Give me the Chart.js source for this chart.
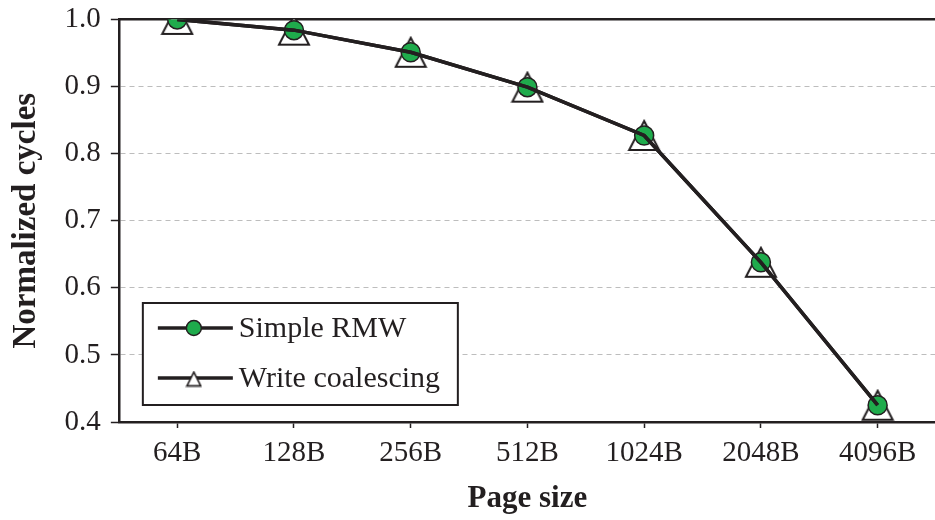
<!DOCTYPE html>
<html>
<head>
<meta charset="utf-8">
<script src="https://cdn.jsdelivr.net/npm/chart.js@4.4.1/dist/chart.umd.min.js"></script>
<style>
  html, body { margin: 0; padding: 0; background: #fff; overflow: hidden; }
  #wrap { position: relative; width: 935px; height: 520px; overflow: hidden; }
  #chart { position: absolute; left: 0; top: -8px; }
</style>
</head>
<body>
<div id="wrap"><canvas id="chart" width="952" height="528"></canvas></div>
<script>
// page sizes on the x axis
const pageSizes = ['64B', '128B', '256B', '512B', '1024B', '2048B', '4096B'];
// normalized cycles per scheme
const simpleRmw       = [1.0, 0.984, 0.951, 0.899, 0.827, 0.638, 0.425];
const writeCoalescing = [1.0, 0.984, 0.951, 0.899, 0.827, 0.638, 0.425];
const seriesNames = ['Simple RMW', 'Write coalescing'];
const yTicks = [0.4, 0.5, 0.6, 0.7, 0.8, 0.9, 1.0];

const ink   = '#231f20',
      green = '#1fab4c',
      serif = "'Liberation Serif', 'Times New Roman', serif";

// hollow triangle marker, centred on its bounding box
function triangleMarker(w, h, lw) {
  let c = document.createElement('canvas'),
      g;
  c.width = w + lw * 2;
  c.height = h + lw * 2;
  g = c.getContext('2d');
  g.beginPath();
  g.moveTo(c.width / 2, lw);
  g.lineTo(c.width - lw, c.height - lw);
  g.lineTo(lw, c.height - lw);
  g.closePath();
  g.fillStyle = '#fff';
  g.fill();
  g.lineWidth = lw;
  g.lineJoin = 'miter';
  g.strokeStyle = ink;
  g.stroke();
  return c;
}

const bigTri   = triangleMarker(30, 29, 2),
      smallTri = triangleMarker(14, 14, 1.6);

// boxed legend sitting in the lower-left of the plot
const boxLegend = {
  id: 'boxLegend',
  afterDatasetsDraw(chart) {
    let ctx = chart.ctx,
        area = chart.chartArea,
        w = 315, h = 102,
        x = area.left + 24,
        y = area.bottom - 17 - h;

    ctx.save();
    ctx.fillStyle = '#fff';
    ctx.fillRect(x, y, w, h);
    ctx.lineWidth = 2;
    ctx.strokeStyle = ink;
    ctx.strokeRect(x, y, w, h);

    seriesNames.forEach(function(name, i) {
      let cy = y + 25 + i * 50,
          mx = x + 51;
      ctx.beginPath();
      ctx.lineWidth = 3.5;
      ctx.strokeStyle = ink;
      ctx.moveTo(x + 15, cy);
      ctx.lineTo(x + 90, cy);
      ctx.stroke();
      if (i === 0) {
        ctx.beginPath();
        ctx.arc(mx, cy, 7.5, 0, Math.PI * 2);
        ctx.fillStyle = green;
        ctx.fill();
        ctx.lineWidth = 1.5;
        ctx.stroke();
      } else {
        ctx.drawImage(smallTri, mx - smallTri.width / 2, cy - smallTri.height / 2 + 1);
      }
      ctx.fillStyle = ink;
      ctx.font = '30px ' + serif;
      ctx.textBaseline = 'middle';
      ctx.textAlign = 'left';
      ctx.fillText(name, x + 96, cy + 1);
    });
    ctx.restore();
  }
};

new Chart(document.getElementById('chart').getContext('2d'), {
  type: 'line',
  plugins: [boxLegend],
  data: {
    labels: pageSizes,
    datasets: [
      { label: seriesNames[1], data: writeCoalescing, showLine: false, pointStyle: bigTri,
        pointRadius: 15, order: 4 },
      { label: seriesNames[0], data: simpleRmw, showLine: false, pointStyle: 'circle',
        pointRadius: 9.5, pointBackgroundColor: green, pointBorderColor: ink, pointBorderWidth: 1.5, order: 3 },
      { label: seriesNames[0], data: simpleRmw, pointRadius: 0, borderColor: ink, borderWidth: 3.5,
        tension: 0, order: 2 },
      { label: seriesNames[1], data: writeCoalescing, pointRadius: 0, borderColor: ink, borderWidth: 3.5,
        tension: 0, order: 1 }
    ]
  },
  options: {
    responsive: false,
    animation: false,
    events: [],
    layout: { padding: { top: 2, right: 8, bottom: 2, left: 7 } },
    plugins: {
      legend: { display: false },
      tooltip: { enabled: false }
    },
    scales: {
      x: {
        offset: true,
        grid: { drawOnChartArea: false, drawTicks: true, tickLength: 6, tickColor: ink, tickWidth: 1.5 },
        border: { color: ink, width: 2.5 },
        ticks: { color: ink, padding: 8, font: { family: serif, size: 29 }, maxRotation: 0 },
        title: { display: true, text: 'Page size', color: ink, padding: { top: 2, bottom: 0 },
                 font: { family: serif, size: 31, weight: 'bold' } }
      },
      xTop: {
        position: 'top',
        grid: { display: false, drawTicks: false },
        border: { color: ink, width: 2.5 },
        ticks: { display: false }
      },
      y: {
        min: 0.4,
        max: 1.0,
        afterBuildTicks: function(axis) {
          axis.ticks = yTicks.map(function(v) { return { value: v }; });
        },
        grid: { color: '#bdbdbd', lineWidth: 1, tickLength: 8, tickColor: ink, tickWidth: 1.5 },
        border: { color: ink, width: 2.5, dash: [5, 4] },
        ticks: {
          color: ink, padding: 10, font: { family: serif, size: 29 },
          callback: function(v) { return Number(v).toFixed(1); }
        },
        title: { display: true, text: 'Normalized cycles', color: ink, padding: { top: 0, bottom: 8 },
                 font: { family: serif, size: 33, weight: 'bold' } }
      }
    }
  }
});
</script>
</body>
</html>
